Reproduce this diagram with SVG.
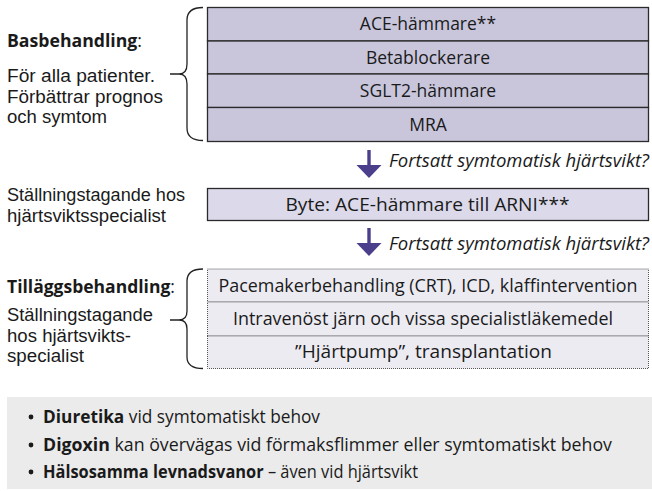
<svg xmlns="http://www.w3.org/2000/svg" width="652" height="491" viewBox="0 0 652 491">
<style>
text{font-family:"Open Sans","Noto Sans","Liberation Sans",sans-serif;font-size:17.5px;fill:#1a1a1a}
text.l{font-family:"Liberation Sans","Open Sans",sans-serif}
.c{text-anchor:middle}
.b{font-weight:bold}
.i{font-style:italic}
.row1{fill:#c9c6dc;stroke:#2a2a2a;stroke-width:1.3}
.row2{fill:#dcdaea;stroke:#2a2a2a;stroke-width:1.3}
.row3{fill:#ecebf2;stroke:#555;stroke-width:1;stroke-dasharray:1 1}
.brace{fill:none;stroke:#222;stroke-width:1.3}
.arrow{fill:#4b3f8c}
</style>
<defs>
<g id="arr"><rect x="-1.7" y="0" width="3.4" height="16" class="arrow"/><polygon points="-12.5,15 12.5,15 0,28" class="arrow"/></g>
</defs>
<g id="labels-left">
<text x="7" y="47" textLength="135" lengthAdjust="spacingAndGlyphs"><tspan class="b">Basbehandling</tspan>:</text>
<text class="l" x="7" y="82" textLength="148" lengthAdjust="spacingAndGlyphs">För alla patienter.</text>
<text class="l" x="7" y="102.5" textLength="156" lengthAdjust="spacingAndGlyphs">Förbättrar prognos</text>
<text class="l" x="7" y="123" textLength="100" lengthAdjust="spacingAndGlyphs">och symtom</text>
<text class="l" x="7" y="201" textLength="178" lengthAdjust="spacingAndGlyphs">Ställningstagande hos</text>
<text class="l" x="7" y="222" textLength="159" lengthAdjust="spacingAndGlyphs">hjärtsviktsspecialist</text>
<text x="7" y="293"><tspan class="b">Tilläggsbehandling</tspan>:</text>
<text class="l" x="7" y="321" textLength="146" lengthAdjust="spacingAndGlyphs">Ställningstagande</text>
<text class="l" x="7" y="341.5" textLength="124" lengthAdjust="spacingAndGlyphs">hos hjärtsvikts-</text>
<text class="l" x="7" y="362" textLength="77" lengthAdjust="spacingAndGlyphs">specialist</text>
</g>
<g id="node-bas">
<rect x="207.5" y="7.5" width="441" height="33.5" class="row1"/>
<rect x="207.5" y="41" width="441" height="33" class="row1"/>
<rect x="207.5" y="74" width="441" height="33.5" class="row1"/>
<rect x="207.5" y="107.5" width="441" height="34" class="row1"/>
<text class="c" x="428" y="30">ACE-hämmare**</text>
<text class="c" x="428" y="63.5">Betablockerare</text>
<text class="c" x="428" y="97">SGLT2-hämmare</text>
<text class="c" x="428" y="130.5">MRA</text>
</g>
<g id="node-byte">
<rect x="207.5" y="188.5" width="441" height="32" class="row2"/>
<text class="c" x="427.5" y="211" textLength="284" lengthAdjust="spacingAndGlyphs">Byte: ACE-hämmare till ARNI***</text>
</g>
<g id="node-tillagg">
<rect x="207.5" y="269" width="441" height="33" class="row3"/>
<rect x="207.5" y="302" width="441" height="34" class="row3"/>
<rect x="207.5" y="336" width="441" height="32.5" class="row3"/>
<text class="c" x="428" y="292" textLength="419" lengthAdjust="spacingAndGlyphs">Pacemakerbehandling (CRT), ICD, klaffintervention</text>
<text class="c" x="423" y="325" textLength="380" lengthAdjust="spacingAndGlyphs">Intravenöst järn och vissa specialistläkemedel</text>
<text class="c" x="423.5" y="358" textLength="257" lengthAdjust="spacingAndGlyphs">”Hjärtpump”, transplantation</text>
</g>
<g id="connectors">
<path class="brace" d="M203,7.5 Q187,7.5 187,20 L187,64 Q187,74 179,74 L170,74 M179,74 Q187,74 187,84 L187,128 Q187,140.5 203,140.5"/>
<path class="brace" d="M203,269 Q187,269 187,281 L187,311 Q187,320 179,320 L170,320 M179,320 Q187,320 187,329 L187,357 Q187,368.5 203,368.5"/>
<use href="#arr" x="369" y="150"/>
<use href="#arr" x="369" y="228"/>
<text class="i" x="389" y="167" textLength="260" lengthAdjust="spacingAndGlyphs">Fortsatt symtomatisk hjärtsvikt?</text>
<text class="i" x="389" y="250" textLength="260" lengthAdjust="spacingAndGlyphs">Fortsatt symtomatisk hjärtsvikt?</text>
</g>
<g id="notes">
<rect x="7" y="397" width="645" height="92" fill="#ebebeb"/>
<circle cx="31" cy="417" r="2.4" fill="#1a1a1a"/>
<circle cx="31" cy="445" r="2.4" fill="#1a1a1a"/>
<circle cx="31" cy="472" r="2.4" fill="#1a1a1a"/>
<text x="43" y="423" textLength="277" lengthAdjust="spacingAndGlyphs"><tspan class="b">Diuretika</tspan> vid symtomatiskt behov</text>
<text x="43" y="451" textLength="569" lengthAdjust="spacingAndGlyphs"><tspan class="b">Digoxin</tspan> kan övervägas vid förmaksflimmer eller symtomatiskt behov</text>
<text x="43" y="478" textLength="375" lengthAdjust="spacingAndGlyphs"><tspan class="b">Hälsosamma levnadsvanor</tspan> – även vid hjärtsvikt</text>
</g>
</svg>
